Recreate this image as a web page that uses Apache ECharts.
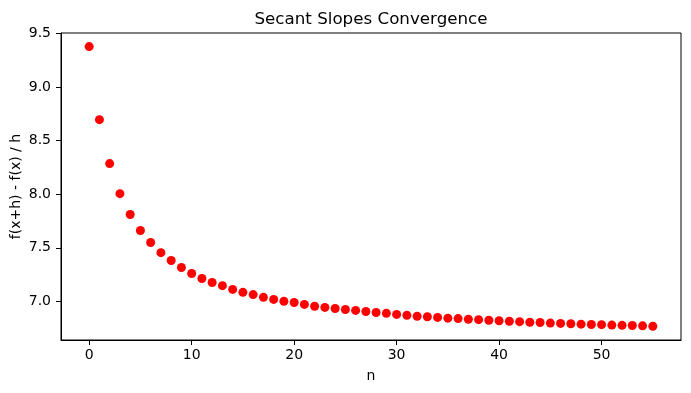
<!DOCTYPE html>
<html>
<head>
<meta charset="utf-8">
<script src="https://cdn.jsdelivr.net/npm/echarts@6/dist/echarts.min.js"></script>
<style>html,body{margin:0;padding:0;background:#fff}#c{width:691px;height:393px}</style>
</head>
<body>
<div id="c"></div>
<script>
const titleText = "Secant Slopes Convergence";
const xLabel = "n";
const yLabel = "f(x+h) - f(x) / h";
const nValues = [];
for (let i = 0; i <= 55; i++) nValues.push(i);
const slopeValues = [
  9.378, 8.696, 8.286, 8.006, 7.811, 7.662, 7.550, 7.455, 7.382, 7.317,
  7.261, 7.214, 7.177, 7.147, 7.112, 7.085, 7.064, 7.038, 7.019, 7.002,
  6.990, 6.972, 6.955, 6.944, 6.934, 6.925, 6.916, 6.906, 6.897, 6.889,
  6.879, 6.870, 6.862, 6.857, 6.851, 6.844, 6.840, 6.834, 6.830, 6.824,
  6.820, 6.815, 6.811, 6.806, 6.803, 6.798, 6.795, 6.792, 6.788, 6.785,
  6.783, 6.779, 6.777, 6.775, 6.772, 6.768
];
const xTicks = [0, 10, 20, 30, 40, 50];
const yTicks = [7.0, 7.5, 8.0, 8.5, 9.0, 9.5];

const chart = echarts.init(document.getElementById('c'), null, {renderer: 'canvas'});
const font = 'DejaVu Sans';
chart.setOption({
  animation: false,
  backgroundColor: '#ffffff',
  title: {
    text: titleText, left: 366, top: 6, textAlign: 'center',
    textStyle: {fontFamily: font, fontSize: 16.7, fontWeight: 'normal', color: '#000'}
  },
  grid: {left: 61, top: 33, right: 10, bottom: 53, outerBoundsMode: 'none', show: true, borderColor: '#000', borderWidth: 1, backgroundColor: 'transparent'},
  xAxis: {
    type: 'value', min: -2.75, max: 57.75,
    name: xLabel, nameLocation: 'middle', nameGap: 29, nameMoveOverlap: false,
    nameTextStyle: {fontFamily: font, fontSize: 14, color: '#000'},
    axisLine: {show: true, onZero: false, lineStyle: {color: '#000', width: 1}},
    axisTick: {show: true, length: 5, customValues: xTicks, lineStyle: {color: '#000'}},
    axisLabel: {customValues: xTicks, margin: 8, fontFamily: font, fontSize: 14, color: '#000'},
    splitLine: {show: false}
  },
  yAxis: {
    type: 'value', min: 6.64, max: 9.505,
    name: yLabel, nameLocation: 'middle', nameGap: 38, nameRotate: 90, nameMoveOverlap: false,
    nameTextStyle: {fontFamily: font, fontSize: 14, color: '#000'},
    axisLine: {show: true, onZero: false, lineStyle: {color: '#000', width: 1}},
    axisTick: {show: true, length: 5, customValues: yTicks, lineStyle: {color: '#000'}},
    axisLabel: {customValues: yTicks, margin: 10, fontFamily: font, fontSize: 14, color: '#000',
      formatter: v => v.toFixed(1)},
    splitLine: {show: false}
  },
  series: [{
    type: 'scatter',
    data: nValues.map((n, i) => [n, slopeValues[i]]),
    symbol: 'circle', symbolSize: 9,
    itemStyle: {color: '#ff0000', opacity: 1}
  }]
});
</script>
</body>
</html>
